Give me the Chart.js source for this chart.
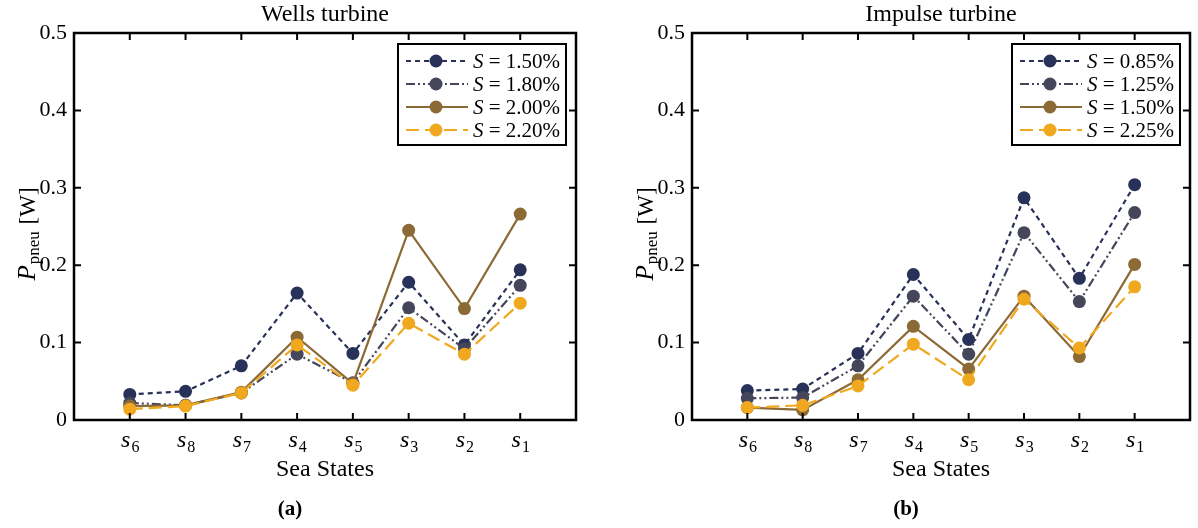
<!DOCTYPE html>
<html>
<head>
<meta charset="utf-8">
<script src="https://cdn.jsdelivr.net/npm/chart.js@4.4.1/dist/chart.umd.min.js"></script>
<style>
  html, body { margin: 0; padding: 0; background: #fff; }
  .wrap { display: flex; width: 1198px; height: 528px; }
  .cell { position: relative; width: 599px; height: 528px; }
</style>
</head>
<body>
<div class="wrap">
  <div class="cell"><canvas id="wells"></canvas></div>
  <div class="cell"><canvas id="impulse"></canvas></div>
</div>
<script>
// sea state order on the x axis (subscripts of s)
const seaStates = ['6', '8', '7', '4', '5', '3', '2', '1'];
const yTicks = [0, 0.1, 0.2, 0.3, 0.4, 0.5];

// Wells turbine
const wellsLabels = ['1.50%', '1.80%', '2.00%', '2.20%'];
const wellsS150 = [0.033, 0.037, 0.070, 0.164, 0.086, 0.178, 0.097, 0.194];
const wellsS180 = [0.022, 0.019, 0.035, 0.085, 0.048, 0.145, 0.092, 0.174];
const wellsS200 = [0.018, 0.019, 0.036, 0.107, 0.047, 0.245, 0.144, 0.266];
const wellsS220 = [0.014, 0.018, 0.035, 0.097, 0.045, 0.125, 0.085, 0.151];

// Impulse turbine
const impulseLabels = ['0.85%', '1.25%', '1.50%', '2.25%'];
const impulseS085 = [0.038, 0.040, 0.086, 0.188, 0.104, 0.287, 0.183, 0.304];
const impulseS125 = [0.028, 0.029, 0.070, 0.160, 0.085, 0.242, 0.153, 0.268];
const impulseS150 = [0.016, 0.013, 0.052, 0.121, 0.066, 0.160, 0.082, 0.201];
const impulseS225 = [0.016, 0.019, 0.044, 0.098, 0.052, 0.156, 0.093, 0.172];

const colors = ['#283258', '#45465a', '#8c6a36', '#f0a81e'];
const dashes = [[5, 4], [9, 3, 2, 3, 2, 3], [], [13, 6]];

const SERIF = '"Liberation Serif", "DejaVu Serif", serif';

function makeSets(labels, series) {
  return series.map((vals, i) => ({
    label: labels[i],
    data: vals.map((v, k) => ({ x: k + 1, y: v })),
    borderColor: colors[i],
    backgroundColor: colors[i],
    pointBackgroundColor: colors[i],
    pointBorderColor: colors[i],
    borderWidth: 2.2,
    borderDash: dashes[i],
    pointRadius: 6.5,
    pointBorderWidth: 0,
    tension: 0,
    order: series.length - i
  }));
}

// frame, inner ticks, x labels, axis titles and boxed legend
const paperPlugin = {
  id: 'paper',
  afterDatasetsDraw(chart, args, opts) {
    const { ctx, chartArea: a } = chart;
    const x = chart.scales.x, y = chart.scales.y;
    ctx.save();
    ctx.strokeStyle = '#000';
    ctx.setLineDash([]);

    // inner ticks on all four sides
    ctx.lineWidth = 2;
    ctx.beginPath();
    yTicks.forEach(v => {
      const py = y.getPixelForValue(v);
      ctx.moveTo(a.left, py); ctx.lineTo(a.left + 7, py);
      ctx.moveTo(a.right, py); ctx.lineTo(a.right - 7, py);
    });
    seaStates.forEach((s, i) => {
      const px = x.getPixelForValue(i + 1);
      ctx.moveTo(px, a.bottom); ctx.lineTo(px, a.bottom - 7);
      ctx.moveTo(px, a.top); ctx.lineTo(px, a.top + 7);
    });
    ctx.stroke();

    // frame
    ctx.lineWidth = 2.5;
    ctx.strokeRect(a.left, a.top, a.right - a.left, a.bottom - a.top);

    ctx.fillStyle = '#000';
    ctx.textBaseline = 'alphabetic';
    const cx = (a.left + a.right) / 2;

    // x tick labels: italic s with upright subscript
    seaStates.forEach((s, i) => {
      const px = x.getPixelForValue(i + 1);
      ctx.font = 'italic 24px ' + SERIF;
      const w1 = ctx.measureText('s').width;
      ctx.font = '16px ' + SERIF;
      const w2 = ctx.measureText(s).width;
      const x0 = px - (w1 + w2) / 2;
      ctx.textAlign = 'left';
      ctx.font = 'italic 24px ' + SERIF;
      ctx.fillText('s', x0, 447);
      ctx.font = '16px ' + SERIF;
      ctx.fillText(s, x0 + w1 + 1, 452);
    });

    // title, x title, caption
    ctx.textAlign = 'center';
    ctx.font = '24px ' + SERIF;
    ctx.fillText(opts.title, cx, 21);
    ctx.fillText('Sea States', cx, 476);
    ctx.font = 'bold 21px ' + SERIF;
    ctx.fillText(opts.caption, cx - 35, 515);

    // y title: P_pneu [W]
    ctx.save();
    ctx.translate(a.left - 47, 234);
    ctx.rotate(-Math.PI / 2);
    ctx.textAlign = 'left';
    ctx.font = 'italic 25px ' + SERIF;
    const wP = ctx.measureText('P').width;
    ctx.font = '17px ' + SERIF;
    const wSub = ctx.measureText('pneu').width;
    ctx.font = '23px ' + SERIF;
    const wW = ctx.measureText(' [W]').width;
    let tx = -(wP + wSub + wW + 2) / 2;
    ctx.font = 'italic 25px ' + SERIF;
    ctx.fillText('P', tx, 8);
    tx += wP + 1;
    ctx.font = '17px ' + SERIF;
    ctx.fillText('pneu', tx, 12);
    tx += wSub + 1;
    ctx.font = '23px ' + SERIF;
    ctx.fillText(' [W]', tx, 8);
    ctx.restore();

    // legend box
    const bw = 168, bh = 101;
    const bx = a.right - 10 - bw, by = a.top + 11;
    ctx.fillStyle = '#fff';
    ctx.fillRect(bx, by, bw, bh);
    ctx.lineWidth = 2;
    ctx.strokeStyle = '#000';
    ctx.strokeRect(bx, by, bw, bh);
    chart.data.datasets.forEach((ds, i) => {
      const ry = by + 17 + i * 23;
      ctx.strokeStyle = ds.borderColor;
      ctx.lineWidth = 2.2;
      ctx.setLineDash(ds.borderDash);
      ctx.beginPath();
      ctx.moveTo(bx + 8, ry);
      ctx.lineTo(bx + 70, ry);
      ctx.stroke();
      ctx.setLineDash([]);
      ctx.fillStyle = ds.backgroundColor;
      ctx.beginPath();
      ctx.arc(bx + 38, ry, 6.5, 0, Math.PI * 2);
      ctx.fill();
      ctx.fillStyle = '#000';
      ctx.textAlign = 'left';
      ctx.font = 'italic 21px ' + SERIF;
      ctx.fillText('S', bx + 75, ry + 7);
      const wS = ctx.measureText('S').width;
      ctx.font = '21px ' + SERIF;
      ctx.fillText(' = ' + ds.label, bx + 75 + wS, ry + 7);
    });
    ctx.restore();
  }
};

function makeChart(id, labels, series, title, caption, yWidth, padRight) {
  new Chart(document.getElementById(id), {
    type: 'line',
    data: { datasets: makeSets(labels, series) },
    plugins: [paperPlugin],
    options: {
      responsive: true,
      maintainAspectRatio: false,
      animation: false,
      layout: { padding: { top: 33, right: padRight, left: 0, bottom: 0 } },
      plugins: {
        legend: { display: false },
        tooltip: { enabled: false },
        paper: { title: title, caption: caption }
      },
      scales: {
        x: {
          type: 'linear',
          min: 0,
          max: 9,
          grid: { display: false },
          border: { display: false },
          ticks: { display: false },
          afterFit(scale) { scale.height = 108; }
        },
        y: {
          min: 0,
          max: 0.5,
          grid: { display: false, drawTicks: false, tickLength: 0 },
          border: { display: false },
          afterBuildTicks(scale) { scale.ticks = yTicks.map(v => ({ value: v })); },
          ticks: {
            padding: 7,
            color: '#000',
            font: { family: SERIF, size: 22 },
            callback: v => (v === 0 ? '0' : v.toFixed(1))
          },
          afterFit(scale) { scale.width = yWidth; }
        }
      }
    }
  });
}

makeChart('wells', wellsLabels, [wellsS150, wellsS180, wellsS200, wellsS220],
  'Wells turbine', '(a)', 74, 23);
makeChart('impulse', impulseLabels, [impulseS085, impulseS125, impulseS150, impulseS225],
  'Impulse turbine', '(b)', 93, 8);
</script>
</body>
</html>
